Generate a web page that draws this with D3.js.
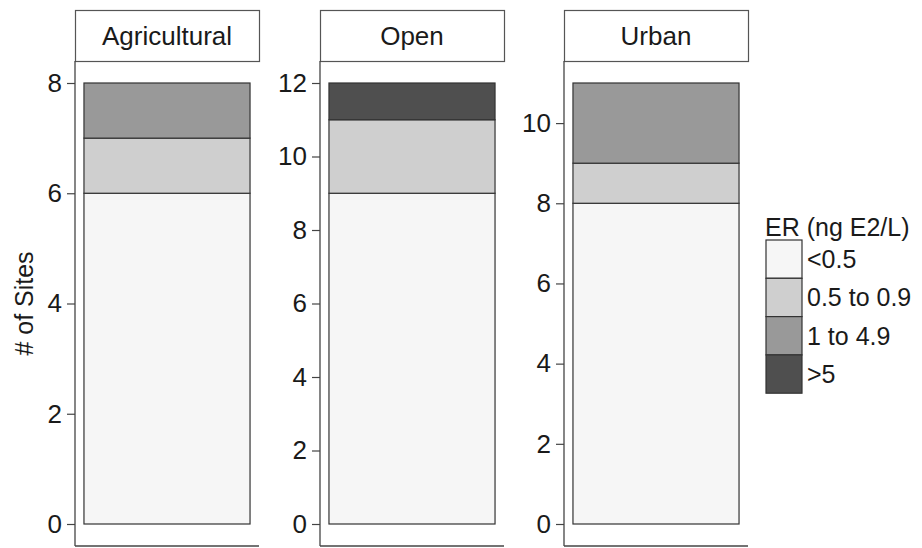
<!DOCTYPE html>
<html><head><meta charset="utf-8">
<script src="https://cdn.jsdelivr.net/npm/d3@7"></script>
<style>body{margin:0;background:#fff;} svg{display:block;font-family:"Liberation Sans",Arial,sans-serif;}</style>
</head><body>
<svg id="chart" width="922" height="548"></svg>
<script>
const categories = ["Agricultural", "Open", "Urban"];
const levels = ["<0.5", "0.5 to 0.9", "1 to 4.9", ">5"];
const lt05 = [6, 9, 8];
const r05to09 = [1, 2, 1];
const r1to49 = [1, 0, 2];
const gt5 = [0, 1, 0];
const legendTitle = "ER (ng E2/L)";
const yTitle = "# of Sites";
const colors = ["#f6f6f6", "#cfcfcf", "#999999", "#4f4f4f"];

const series = [lt05, r05to09, r1to49, gt5];
const svg = d3.select("#chart");
const panelLefts = [75, 320, 564];
const panelW = 184;
const panelTop = 61, panelBottom = 546;
const stripTop = 10;
const expand = 22;
const color = d3.scaleOrdinal().domain(levels).range(colors);

categories.forEach((cat, i) => {
  const rows = [Object.fromEntries(levels.map((l, k) => [l, series[k][i]]))];
  const stacked = d3.stack().keys(levels)(rows);
  const total = d3.sum(series, s => s[i]);
  const x = d3.scaleBand().domain([cat]).range([panelLefts[i], panelLefts[i] + panelW]).paddingOuter(0.054).paddingInner(0);
  const y = d3.scaleLinear().domain([0, total]).range([panelBottom - expand, panelTop + expand]);
  const g = svg.append("g");

  // strip
  g.append("rect").attr("x", panelLefts[i] + 0.5).attr("y", stripTop + 0.5)
    .attr("width", panelW).attr("height", panelTop - stripTop)
    .attr("fill", "#fff").attr("stroke", "#555").attr("stroke-width", 1.2);
  g.append("text").attr("x", panelLefts[i] + panelW / 2).attr("y", (stripTop + panelTop) / 2 + 9)
    .attr("text-anchor", "middle").attr("font-size", 26).attr("fill", "#1a1a1a").text(cat);

  // bars
  stacked.forEach(layer => {
    const d = layer[0];
    if (d[1] - d[0] <= 0) return;
    g.append("rect").attr("x", x(cat)).attr("width", x.bandwidth())
      .attr("y", y(d[1])).attr("height", y(d[0]) - y(d[1]))
      .attr("fill", color(layer.key)).attr("stroke", "#333").attr("stroke-width", 1.2);
  });

  // y axis
  const ax = g.append("g").attr("transform", `translate(${panelLefts[i]},0)`)
    .call(d3.axisLeft(y).ticks(5).tickSize(8).tickPadding(5).tickFormat(d3.format("d")));
  ax.select(".domain").remove();
  ax.selectAll(".tick line").attr("stroke", "#444").attr("stroke-width", 1.2);
  ax.selectAll(".tick text").attr("font-size", 26).attr("fill", "#1a1a1a").attr("font-family", "Liberation Sans, Arial, sans-serif");
  g.append("line").attr("x1", panelLefts[i]).attr("x2", panelLefts[i])
    .attr("y1", panelTop).attr("y2", panelBottom).attr("stroke", "#444").attr("stroke-width", 1.3);
  g.append("line").attr("x1", panelLefts[i]).attr("x2", panelLefts[i] + panelW)
    .attr("y1", panelBottom).attr("y2", panelBottom).attr("stroke", "#444").attr("stroke-width", 1.3);
});

// y title
svg.append("text").attr("transform", `translate(33,${(panelTop + panelBottom) / 2}) rotate(-90)`)
  .attr("text-anchor", "middle").attr("font-size", 25).attr("fill", "#1a1a1a").text(yTitle);

// legend
const lg = svg.append("g");
lg.append("text").attr("x", 765).attr("y", 236).attr("font-size", 25).attr("fill", "#1a1a1a").text(legendTitle);
const keyH = 38.3;
levels.forEach((l, k) => {
  lg.append("rect").attr("x", 766).attr("y", 240 + k * keyH).attr("width", 36).attr("height", keyH)
    .attr("fill", color(l)).attr("stroke", "#333").attr("stroke-width", 1.2);
  lg.append("text").attr("x", 807).attr("y", 240 + k * keyH + keyH / 2 + 9)
    .attr("font-size", 25).attr("fill", "#1a1a1a").text(l);
});
</script>
</body></html>
